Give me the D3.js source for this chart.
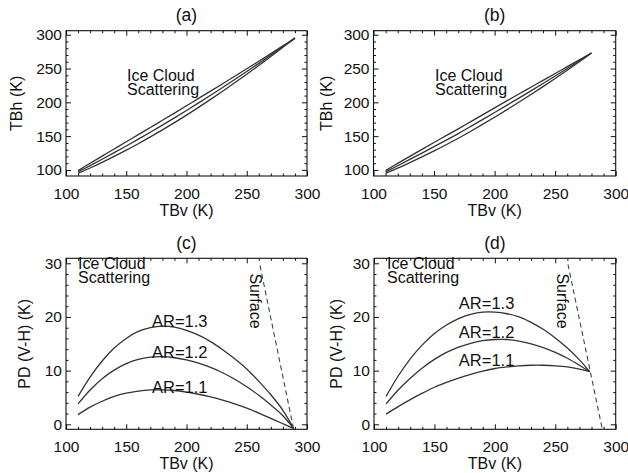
<!DOCTYPE html>
<html><head><meta charset="utf-8">
<script src="https://cdn.jsdelivr.net/npm/d3@7"></script>
<style>
body{margin:0;background:#fff}
text{font-family:"Liberation Sans",Arial,Helvetica,sans-serif;fill:#111}
</style>
</head><body>
<svg id="chart" width="628" height="473"></svg>
<script>
// ---------------- DATA ----------------
const xTicks = [100, 150, 200, 250, 300];
const yTicksTB = [100, 150, 200, 250, 300];
const yTicksPD = [0, 10, 20, 30];
const xMinor = [110,120,130,140,160,170,180,190,210,220,230,240,260,270,280,290];
const yMinorTB = [110,120,130,140,160,170,180,190,210,220,230,240,260,270,280,290];
const yMinorPD = [2,4,6,8,12,14,16,18,22,24,26,28];

// panel (a): TBh vs TBv
const tbvA = [110,120,130,140,150,160,170,180,190,200,210,220,230,240,250,260,270,280,290];
const tbhA1 = [99,109.8,120.4,131,141.6,152.2,162.8,173.4,184.1,194.9,205.8,216.6,227.5,238.5,249.6,260.8,272.1,283.6,295];
const tbhA2 = [97,106.3,115.8,125.5,135.4,145.5,155.8,166.3,177,188,199.2,210.5,222,233.7,245.6,257.7,270,282.5,295];
const tbhA3 = [95,102.8,111.2,120,129.2,138.8,148.8,159.2,169.9,181.1,192.6,204.4,216.5,228.9,241.6,254.6,267.9,281.4,295];

// panel (b)
const tbvB = [110,120,130,140,150,160,170,180,190,200,210,220,230,240,250,260,270,280];
const tbhB1 = [99,109.7,120.1,130.4,140.6,150.7,160.8,171.1,181.5,191.8,202.1,212.3,222.4,232.5,242.6,252.8,263,273];
const tbhB2 = [97,106.2,115.5,124.9,134.4,144,153.8,164,174.4,184.9,195.5,206.2,217,227.9,238.9,250.1,261.5,273];
const tbhB3 = [95,102.7,110.9,119.4,128.2,137.3,146.8,156.9,167.3,178,188.9,200.1,211.6,223.3,235.2,247.4,260,273];

// panel (c): PD vs TBv
const tbvC = [110,120,130,140,150,160,170,180,190,200,210,220,230,240,250,260,270,280,289];
const pdC13 = [5.2,8.8,11.8,14.2,16.0,17.3,18.0,18.3,18.1,17.5,16.6,15.4,13.9,12.2,10.3,8.0,5.5,2.6,-0.8];
const pdC12 = [3.8,6.4,8.5,10.1,11.3,12.1,12.5,12.6,12.4,12.0,11.4,10.6,9.6,8.4,7.0,5.4,3.6,1.6,-0.8];
const pdC11 = [1.8,3.2,4.3,5.2,5.8,6.2,6.4,6.4,6.3,6.0,5.6,5.1,4.5,3.8,3.0,2.1,1.1,0.1,-0.8];
const surfC = [[261, 29.6], [289, -1]];

// panel (d)
const tbvD = [110,120,130,140,150,160,170,180,190,200,210,220,230,240,250,260,270,278.5];
const pdD13 = [5.2,9.0,12.2,14.8,16.9,18.5,19.7,20.5,20.9,20.9,20.6,20.0,19.0,17.7,16.1,14.2,12.0,9.8];
const pdD12 = [3.8,6.4,8.6,10.5,12.1,13.4,14.4,15.1,15.6,15.8,15.8,15.5,15.0,14.3,13.4,12.3,11.0,9.8];
const pdD11 = [1.9,3.3,4.6,5.8,6.9,7.8,8.6,9.3,9.9,10.4,10.7,10.9,11.0,11.0,10.9,10.7,10.3,9.8];
const surfD = [[260.5, 29.8], [289, -1]];

const arLabels = ["AR=1.3", "AR=1.2", "AR=1.1"];

// ---------------- LAYOUT ----------------
const svg = d3.select("#chart");
const zip = (xs, ys) => xs.map((v, i) => [v, ys[i]]);

const panels = [
  {title:"(a)", box:[66,307,30.7,176], ydom:[91,306], yT:yTicksTB, yM:yMinorTB, ylab:"TBh (K)", ylabX:16,
   series:[zip(tbvA,tbhA1), zip(tbvA,tbhA2), zip(tbvA,tbhA3)], ice:[127,75.5]},
  {title:"(b)", box:[373.5,615.7,30.7,176], ydom:[91,306], yT:yTicksTB, yM:yMinorTB, ylab:"TBh (K)", ylabX:326,
   series:[zip(tbvB,tbhB1), zip(tbvB,tbhB2), zip(tbvB,tbhB3)], ice:[435,75.5]},
  {title:"(c)", box:[66,307,258.3,429.3], ydom:[-0.93,30.93], yT:yTicksPD, yM:yMinorPD, ylab:"PD (V-H) (K)", ylabX:24,
   series:[zip(tbvC,pdC13), zip(tbvC,pdC12), zip(tbvC,pdC11)], ice:[78,263],
   surf:surfC, surfLab:[256,301], arPos:[[171.4,18.2],[171.4,12.35],[171.4,5.8]]},
  {title:"(d)", box:[374,615.7,258.3,429.3], ydom:[-0.93,30.93], yT:yTicksPD, yM:yMinorPD, ylab:"PD (V-H) (K)", ylabX:336,
   series:[zip(tbvD,pdD13), zip(tbvD,pdD12), zip(tbvD,pdD11)], ice:[387,263],
   surf:surfD, surfLab:[563,301], arPos:[[170.2,21.4],[170.2,16.0],[170.2,10.8]]}
];

function styleAxis(g, size) {
  g.select(".domain").remove();
  g.selectAll(".tick line").attr("stroke", "#111").attr("stroke-width", 1);
  g.selectAll("text").attr("font-family", '"Liberation Sans",Arial,sans-serif')
    .attr("font-size", size).attr("fill", "#111");
}

panels.forEach(p => {
  const [x0, x1, y0, y1] = p.box;
  const x = d3.scaleLinear().domain([100, 300]).range([x0, x1]);
  const y = d3.scaleLinear().domain(p.ydom).range([y1, y0]);
  const g = svg.append("g");

  // major / minor ticks on all four sides, pointing inward
  g.append("g").attr("transform", `translate(0,${y1})`)
    .call(d3.axisBottom(x).tickValues(xTicks).tickSize(-5).tickPadding(11.5).tickFormat(d3.format("d")))
    .call(a => styleAxis(a, 15.5));
  g.append("g").attr("transform", `translate(0,${y1})`)
    .call(d3.axisBottom(x).tickValues(xMinor).tickSize(-2.5).tickFormat(""))
    .call(a => styleAxis(a, 15));
  g.append("g").attr("transform", `translate(0,${y0})`)
    .call(d3.axisTop(x).tickValues(xTicks).tickSize(-5).tickFormat(""))
    .call(a => styleAxis(a, 15));
  g.append("g").attr("transform", `translate(0,${y0})`)
    .call(d3.axisTop(x).tickValues(xMinor).tickSize(-2.5).tickFormat(""))
    .call(a => styleAxis(a, 15));
  g.append("g").attr("transform", `translate(${x0},0)`)
    .call(d3.axisLeft(y).tickValues(p.yT).tickSize(-5).tickPadding(4).tickFormat(d3.format("d")))
    .call(a => styleAxis(a, 15.5));
  g.append("g").attr("transform", `translate(${x0},0)`)
    .call(d3.axisLeft(y).tickValues(p.yM).tickSize(-2.5).tickFormat(""))
    .call(a => styleAxis(a, 15));
  g.append("g").attr("transform", `translate(${x1},0)`)
    .call(d3.axisRight(y).tickValues(p.yT).tickSize(-5).tickFormat(""))
    .call(a => styleAxis(a, 15));
  g.append("g").attr("transform", `translate(${x1},0)`)
    .call(d3.axisRight(y).tickValues(p.yM).tickSize(-2.5).tickFormat(""))
    .call(a => styleAxis(a, 15));

  // frame
  g.append("rect").attr("x", x0).attr("y", y0).attr("width", x1 - x0).attr("height", y1 - y0)
    .attr("fill", "none").attr("stroke", "#111").attr("stroke-width", 1.1);

  // curves
  const line = d3.line().x(d => x(d[0])).y(d => y(d[1])).curve(d3.curveCatmullRom);
  p.series.forEach(s => {
    g.append("path").datum(s).attr("d", line)
      .attr("fill", "none").attr("stroke", "#333").attr("stroke-width", 1.3);
  });

  // surface dashed line + AR labels
  if (p.surf) {
    g.append("path").datum(p.surf).attr("d", d3.line().x(d => x(d[0])).y(d => y(d[1])))
      .attr("fill", "none").attr("stroke", "#444").attr("stroke-width", 1.1)
      .attr("stroke-dasharray", "5,3.5");
    g.append("text").attr("transform", `translate(${p.surfLab[0]},${p.surfLab[1]}) rotate(90)`)
      .attr("text-anchor", "middle").attr("dy", "0.35em").attr("font-size", 16).text("Surface");
    p.arPos.forEach((pos, i) => {
      g.append("text").attr("x", x(pos[0])).attr("y", y(pos[1])).attr("font-size", 16.5).text(arLabels[i]);
    });
  }

  // Ice Cloud Scattering label
  const ice = g.append("text").attr("font-size", 16);
  ice.append("tspan").attr("x", p.ice[0]).attr("y", p.ice[1]).attr("dy", "0.35em").text("Ice Cloud");
  ice.append("tspan").attr("x", p.ice[0]).attr("y", p.ice[1] + 14).attr("dy", "0.35em").text("Scattering");

  // titles
  const cx = (x0 + x1) / 2;
  g.append("text").attr("x", cx).attr("y", y0 - 15.5).attr("dy", "0.35em")
    .attr("text-anchor", "middle").attr("font-size", 17.5).text(p.title);
  g.append("text").attr("x", cx).attr("y", y1 + 34.5).attr("dy", "0.35em")
    .attr("text-anchor", "middle").attr("font-size", 16).text("TBv (K)");
  g.append("text").attr("transform", `translate(${p.ylabX},${(y0 + y1) / 2}) rotate(-90)`)
    .attr("text-anchor", "middle").attr("dy", "0.35em").attr("font-size", 16).text(p.ylab);
});
</script>
</body></html>
